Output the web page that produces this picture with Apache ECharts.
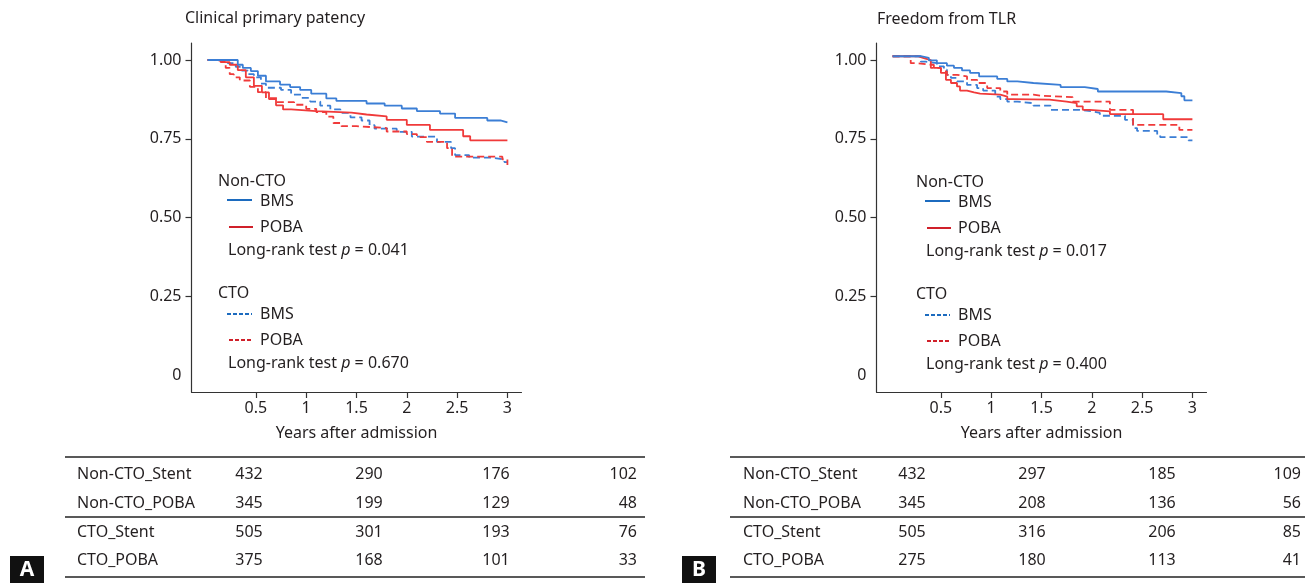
<!DOCTYPE html>
<html><head><meta charset="utf-8">
<script src="https://cdn.jsdelivr.net/npm/echarts@6/dist/echarts.min.js"></script>
<style>html,body{margin:0;padding:0;background:#fff}#c{width:1310px;height:583px}</style>
</head><body><div id="c"></div>
<script>
// ---------- data ----------
const xTicks = [0.5, 1, 1.5, 2, 2.5, 3];
const yTickLabels = [0, 0.25, 0.5, 0.75, 1];
const yTickMarks = [0.25, 0.5, 0.75, 1];
const panelTitles = ['Clinical primary patency', 'Freedom from TLR'];
const xAxisName = 'Years after admission';
const groupNames = ['Non-CTO', 'CTO'];
const armNames = ['BMS', 'POBA'];
const pValuesA = ['0.041', '0.670'];
const pValuesB = ['0.017', '0.400'];
const tableRows = ['Non-CTO_Stent', 'Non-CTO_POBA', 'CTO_Stent', 'CTO_POBA'];
const tableA = [[432, 290, 176, 102], [345, 199, 129, 48], [505, 301, 193, 76], [375, 168, 101, 33]];
const tableB = [[432, 297, 185, 109], [345, 208, 136, 56], [505, 316, 206, 85], [275, 180, 113, 41]];
const panelLetters = ['A', 'B'];

// Panel A: clinical primary patency [years, survival]
const A_nonCTO_BMS = [[0.02,1.0],[0.32,0.985],[0.37,0.975],[0.45,0.965],[0.52,0.95],[0.6,0.932],[0.74,0.922],[0.84,0.914],[0.94,0.905],[1.05,0.893],[1.2,0.878],[1.3,0.87],[1.6,0.862],[1.78,0.855],[1.95,0.846],[2.1,0.838],[2.33,0.83],[2.48,0.816],[2.8,0.808],[2.93,0.802],[3.0,0.802]];
const A_nonCTO_POBA = [[0.02,1.0],[0.15,0.993],[0.24,0.985],[0.32,0.968],[0.40,0.945],[0.48,0.918],[0.56,0.897],[0.63,0.876],[0.70,0.856],[0.77,0.843],[0.85,0.838],[1.1,0.833],[1.45,0.827],[1.6,0.821],[1.8,0.81],[2.0,0.794],[2.23,0.778],[2.56,0.758],[2.63,0.745],[3.0,0.745]];
const A_CTO_BMS = [[0.02,1.0],[0.22,0.99],[0.3,0.978],[0.36,0.966],[0.42,0.955],[0.48,0.945],[0.55,0.925],[0.6,0.912],[0.75,0.905],[0.85,0.89],[0.95,0.88],[1.04,0.868],[1.14,0.855],[1.24,0.843],[1.34,0.832],[1.44,0.818],[1.55,0.808],[1.63,0.793],[1.68,0.782],[1.9,0.772],[2.05,0.757],[2.3,0.74],[2.44,0.72],[2.48,0.698],[2.62,0.69],[2.85,0.684],[2.97,0.676],[3.0,0.676]];
const A_CTO_POBA = [[0.02,1.0],[0.1,0.995],[0.2,0.975],[0.24,0.955],[0.28,0.945],[0.34,0.935],[0.44,0.915],[0.52,0.898],[0.6,0.879],[0.71,0.866],[0.88,0.858],[1.0,0.845],[1.1,0.835],[1.2,0.82],[1.27,0.8],[1.35,0.79],[1.5,0.784],[1.8,0.773],[2.0,0.765],[2.1,0.755],[2.2,0.74],[2.4,0.72],[2.45,0.693],[2.95,0.685],[3.0,0.667]];

// Panel B: freedom from TLR [years, survival]
const B_nonCTO_BMS = [[0.02,1.012],[0.3,1.007],[0.38,0.999],[0.46,0.99],[0.56,0.982],[0.63,0.975],[0.71,0.967],[0.79,0.959],[0.88,0.948],[1.06,0.94],[1.16,0.932],[1.26,0.927],[1.42,0.921],[1.69,0.914],[1.93,0.908],[2.06,0.9],[2.74,0.895],[2.89,0.885],[2.92,0.872],[3.0,0.872]];
const B_nonCTO_POBA = [[0.02,1.012],[0.27,1.006],[0.33,1.0],[0.4,0.985],[0.43,0.975],[0.5,0.959],[0.55,0.937],[0.6,0.927],[0.66,0.916],[0.69,0.903],[0.76,0.897],[0.83,0.893],[0.89,0.89],[1.09,0.884],[1.16,0.876],[1.22,0.874],[1.58,0.868],[1.75,0.863],[1.85,0.853],[1.91,0.842],[1.98,0.837],[2.18,0.828],[2.71,0.812],[3.0,0.812]];
const B_CTO_BMS = [[0.02,1.012],[0.3,0.995],[0.35,0.99],[0.46,0.98],[0.53,0.969],[0.56,0.953],[0.6,0.943],[0.66,0.932],[0.76,0.921],[0.86,0.911],[0.92,0.903],[1.04,0.884],[1.09,0.876],[1.16,0.868],[1.26,0.863],[1.42,0.855],[1.59,0.842],[1.88,0.837],[2.01,0.832],[2.08,0.823],[2.33,0.81],[2.41,0.784],[2.45,0.775],[2.65,0.763],[2.68,0.755],[2.96,0.745],[3.0,0.745]];
const B_CTO_POBA = [[0.02,1.012],[0.2,0.99],[0.27,0.985],[0.4,0.975],[0.5,0.964],[0.56,0.953],[0.66,0.948],[0.76,0.937],[0.86,0.927],[0.96,0.911],[1.09,0.9],[1.16,0.89],[1.42,0.887],[1.49,0.882],[1.81,0.868],[2.18,0.842],[2.41,0.794],[2.87,0.778],[3.0,0.778]];

// ---------- style ----------
const FONT = '"Noto Sans", "Open Sans", sans-serif';
const TXT = '#231f20';
const AXIS = '#333';
const BLUE = '#3b7ed5';
const RED = '#f03a3a';
const LEG_BLUE = '#1c6bbf';
const LEG_RED = '#d0202a';
const FS = 16;

const grids = [
  {left: 191.5, top: 43, width: 330, height: 349},
  {left: 876.5, top: 43, width: 330, height: 349}
];

function xAx(gi) {
  return {
    type: 'value', gridIndex: gi, min: -0.14, max: 3.14,
    axisLine: {show: true, onZero: false, lineStyle: {color: AXIS, width: 1.2}},
    axisTick: {show: true, length: 6, customValues: xTicks, lineStyle: {color: AXIS, width: 1.2}},
    axisLabel: {customValues: xTicks, margin: 8, fontSize: FS, color: TXT, fontFamily: FONT, formatter: v => String(v)},
    splitLine: {show: false},
    name: xAxisName, nameLocation: 'middle', nameGap: 33,
    nameTextStyle: {fontSize: FS, color: TXT, fontFamily: FONT}
  };
}
function yAx(gi) {
  return {
    type: 'value', gridIndex: gi, min: -0.054, max: 1.054,
    axisLine: {show: true, onZero: false, lineStyle: {color: AXIS, width: 1.2}},
    axisTick: {show: true, length: 6, customValues: yTickMarks, lineStyle: {color: AXIS, width: 1.2}},
    axisLabel: {customValues: yTickLabels, margin: 10, fontSize: FS, color: TXT, fontFamily: FONT,
      formatter: v => v === 0 ? '0' : v.toFixed(2)},
    splitLine: {show: false}
  };
}
function kmSeries(data, gi, color, dashed) {
  return {
    type: 'line', xAxisIndex: gi, yAxisIndex: gi, data: data, step: 'end',
    showSymbol: false, symbol: 'none', silent: true,
    lineStyle: {color: color, width: 1.8, type: dashed ? [7, 4] : 'solid'}
  };
}

// ---------- graphics (titles, legends, risk tables) ----------
const g = [];
function text(x, y, s, opt) {
  opt = opt || {};
  g.push({type: 'text', x: x, y: y, silent: true, style: Object.assign({
    text: s, fontSize: FS, fontFamily: FONT, fill: TXT,
    align: opt.align || 'left', verticalAlign: 'middle'}, opt.style || {})});
}
function line(x1, y1, x2, y2, color, w, dash) {
  g.push({type: 'line', silent: true, shape: {x1, y1, x2, y2},
    style: {stroke: color, lineWidth: w, lineDash: dash || null}});
}
function pText(x, y, p) {
  g.push({type: 'text', x: x, y: y, silent: true, style: {
    text: '{n|Long-rank test }{i|p}{n| = ' + p + '}',
    verticalAlign: 'middle', align: 'left',
    rich: {
      n: {fontSize: FS, fontFamily: FONT, fill: TXT},
      i: {fontSize: FS, fontFamily: FONT, fill: TXT, fontStyle: 'italic'}
    }}});
}

const panels = [
  {titleX: 185, titleY: 18, legX: 218, legDY: 0, pv: pValuesA, table: tableA,
   tLeft: 65, tRight: 645, labelX: 77, cols: [249, 369, 496], lastX: 637, badgeX: 10},
  {titleX: 877, titleY: 19, legX: 916, legDY: 1, pv: pValuesB, table: tableB,
   tLeft: 730, tRight: 1305, labelX: 743, cols: [912, 1032, 1162], lastX: 1301, badgeX: 682}
];
panels.forEach((p, i) => {
  text(p.titleX, p.titleY, panelTitles[i]);
  const lx = p.legX, dy = p.legDY;
  // Non-CTO group
  text(lx, 181 + dy, groupNames[0]);
  line(lx + 9, 200 + dy, lx + 34, 200 + dy, LEG_BLUE, 2);
  text(lx + 42, 201 + dy, armNames[0]);
  line(lx + 11, 227 + dy, lx + 35, 227 + dy, LEG_RED, 2);
  text(lx + 42, 227 + dy, armNames[1]);
  pText(lx + 10, 250 + dy, p.pv[0]);
  // CTO group
  text(lx, 293 + dy, groupNames[1]);
  line(lx + 9, 314 + dy, lx + 34, 314 + dy, LEG_BLUE, 2, [4, 2]);
  text(lx + 42, 314 + dy, armNames[0]);
  line(lx + 11, 340 + dy, lx + 35, 340 + dy, LEG_RED, 2, [4, 2]);
  text(lx + 42, 340 + dy, armNames[1]);
  pText(lx + 10, 363 + dy, p.pv[1]);
  // risk table
  line(p.tLeft, 457, p.tRight, 457, '#222', 1.3);
  line(p.tLeft, 517, p.tRight, 517, '#222', 1.3);
  line(p.tLeft, 577, p.tRight, 577, '#222', 1.3);
  const rowY = [474, 503, 532, 560];
  tableRows.forEach((r, ri) => {
    text(p.labelX, rowY[ri], r);
    p.table[ri].forEach((v, ci) => {
      if (ci < 3) text(p.cols[ci], rowY[ri], String(v), {align: 'center'});
      else text(p.lastX, rowY[ri], String(v), {align: 'right'});
    });
  });
  // panel letter badge
  g.push({type: 'rect', silent: true, shape: {x: p.badgeX, y: 556, width: 34, height: 27}, style: {fill: '#111'}});
  text(p.badgeX + 17, 570, panelLetters[i], {align: 'center', style: {fill: '#fff', fontSize: 21, fontWeight: 'bold'}});
});

const option = {
  animation: false,
  backgroundColor: '#fff',
  grid: grids,
  xAxis: [xAx(0), xAx(1)],
  yAxis: [yAx(0), yAx(1)],
  series: [
    kmSeries(A_CTO_BMS, 0, BLUE, true),
    kmSeries(A_CTO_POBA, 0, RED, true),
    kmSeries(A_nonCTO_POBA, 0, RED, false),
    kmSeries(A_nonCTO_BMS, 0, BLUE, false),
    kmSeries(B_CTO_BMS, 1, BLUE, true),
    kmSeries(B_CTO_POBA, 1, RED, true),
    kmSeries(B_nonCTO_POBA, 1, RED, false),
    kmSeries(B_nonCTO_BMS, 1, BLUE, false)
  ],
  graphic: g
};
const chart = echarts.init(document.getElementById('c'), null, {renderer: 'canvas'});
chart.setOption(option);
</script></body></html>
